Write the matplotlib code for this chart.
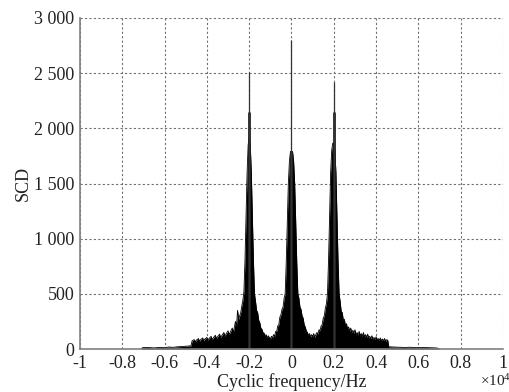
import matplotlib
matplotlib.use("Agg")
import matplotlib.pyplot as plt

plt.rcParams['font.family'] = ['Liberation Serif', 'DejaVu Serif']
plt.rcParams['mathtext.fontset'] = 'custom'
plt.rcParams['mathtext.rm'] = 'Liberation Serif'

# (cyclic frequency x1e4 Hz, SCD) envelope values
spectrum = [
    (-0.71, 0), (-0.705, 12), (-0.68, 14), (-0.65, 10), (-0.62, 15), (-0.60, 12),
    (-0.58, 18), (-0.56, 15), (-0.54, 20), (-0.52, 22), (-0.50, 25), (-0.48, 28),
    (-0.475, 30), (-0.47, 75), (-0.46, 85), (-0.455, 65), (-0.45, 80), (-0.44, 95),
    (-0.435, 70), (-0.43, 85), (-0.42, 100), (-0.415, 75), (-0.41, 90), (-0.40, 105),
    (-0.395, 80), (-0.39, 95), (-0.38, 115), (-0.375, 85), (-0.37, 100), (-0.36, 125),
    (-0.355, 95), (-0.35, 110), (-0.34, 135), (-0.335, 105), (-0.33, 120),
    (-0.32, 150), (-0.315, 115), (-0.31, 135), (-0.30, 165), (-0.295, 130),
    (-0.29, 150), (-0.28, 190), (-0.275, 150), (-0.27, 200), (-0.265, 250),
    (-0.26, 210), (-0.255, 350), (-0.25, 270), (-0.245, 300), (-0.24, 330),
    (-0.235, 390), (-0.23, 440), (-0.225, 520), (-0.22, 800), (-0.215, 1200),
    (-0.21, 1600), (-0.205, 1850), (-0.20, 1920), (-0.195, 1850), (-0.19, 1600),
    (-0.185, 1200), (-0.18, 800), (-0.175, 500), (-0.17, 430), (-0.165, 350),
    (-0.16, 330), (-0.155, 260), (-0.15, 240), (-0.145, 190), (-0.14, 180),
    (-0.135, 150), (-0.13, 145), (-0.125, 120), (-0.12, 130), (-0.115, 100),
    (-0.11, 120), (-0.10, 90), (-0.095, 115), (-0.09, 100), (-0.085, 130),
    (-0.08, 115), (-0.075, 160), (-0.07, 160), (-0.065, 210), (-0.06, 220),
    (-0.055, 290), (-0.05, 310), (-0.045, 360), (-0.04, 380), (-0.035, 460),
    (-0.03, 500), (-0.025, 780), (-0.02, 1150), (-0.015, 1500), (-0.01, 1700),
    (-0.005, 1790), (0.0, 1790), (0.005, 1790), (0.01, 1700), (0.015, 1500),
    (0.02, 1150), (0.025, 780), (0.03, 500), (0.035, 460), (0.04, 380),
    (0.045, 360), (0.05, 300), (0.055, 280), (0.06, 220), (0.065, 200),
    (0.07, 165), (0.075, 150), (0.08, 125), (0.085, 140), (0.09, 110),
    (0.095, 130), (0.10, 115), (0.105, 140), (0.11, 105), (0.115, 130),
    (0.12, 150), (0.125, 135), (0.13, 175), (0.135, 165), (0.14, 210),
    (0.145, 220), (0.15, 280), (0.155, 300), (0.16, 370), (0.165, 410),
    (0.17, 500), (0.175, 800), (0.18, 1200), (0.185, 1600), (0.19, 1800),
    (0.195, 1865), (0.20, 1865), (0.205, 1800), (0.21, 1600), (0.215, 1200),
    (0.22, 800), (0.225, 500), (0.23, 430), (0.235, 340), (0.24, 330),
    (0.245, 260), (0.25, 270), (0.255, 210), (0.26, 230), (0.265, 180),
    (0.27, 200), (0.275, 160), (0.28, 190), (0.285, 150), (0.29, 170),
    (0.295, 140), (0.30, 175), (0.305, 130), (0.31, 150), (0.315, 125),
    (0.32, 160), (0.325, 120), (0.33, 140), (0.335, 115), (0.34, 150),
    (0.345, 110), (0.35, 130), (0.355, 105), (0.36, 135), (0.365, 100),
    (0.37, 115), (0.375, 95), (0.38, 120), (0.385, 90), (0.39, 105),
    (0.395, 85), (0.40, 110), (0.405, 85), (0.41, 95), (0.415, 80), (0.42, 100),
    (0.425, 75), (0.43, 90), (0.435, 75), (0.44, 95), (0.445, 70), (0.45, 85),
    (0.455, 80), (0.46, 20), (0.48, 18), (0.50, 16), (0.52, 15), (0.54, 14),
    (0.56, 16), (0.58, 13), (0.60, 12), (0.62, 14), (0.65, 12), (0.68, 10),
    (0.69, 8), (0.70, 0),
]
freq = [p[0] for p in spectrum]
scd = [p[1] for p in spectrum]

# Narrow peak tips
peak_freq = [-0.20, 0.0, 0.20]
peak_mid = [2150, 1795, 2150]
peak_top = [2510, 2800, 2420]

xticks = [-1, -0.8, -0.6, -0.4, -0.2, 0, 0.2, 0.4, 0.6, 0.8, 1]
xticklabels = ['-1', '-0.8', '-0.6', '-0.4', '-0.2', '0', '0.2', '0.4', '0.6', '0.8', '1']
yticks = [0, 500, 1000, 1500, 2000, 2500, 3000]
yticklabels = ['0', '500', '1 000', '1 500', '2 000', '2 500', '3 000']

fig = plt.figure(figsize=(5.1, 3.92), dpi=100)
ax = fig.add_axes([80/510, 43/392, 423/510, 331/392])

ax.fill_between(freq, 0, scd, color='black', lw=0)
ax.plot(freq, scd, color='black', lw=0.6)
ax.vlines(peak_freq, 0, peak_mid, color='#222222', lw=2.0)
ax.vlines(peak_freq, 0, peak_top, color='#333333', lw=0.9)

ax.set_xlim(-1, 1)
ax.set_ylim(0, 3000)
ax.set_xticks(xticks)
ax.set_xticklabels(xticklabels)
ax.set_yticks(yticks)
ax.set_yticklabels(yticklabels)
ax.tick_params(direction='in', length=0, labelsize=13, colors='#222222', pad=4)

ax.grid(True, color='#707070', linestyle=(0, (2, 2)), lw=0.8)
ax.set_axisbelow(True)
for s in ['top', 'right']:
    ax.spines[s].set_visible(False)
for s in ['left', 'bottom']:
    ax.spines[s].set_color('#808080')
    ax.spines[s].set_linewidth(1.2)

ax.set_xlabel('Cyclic frequency/Hz', fontsize=13, color='#222222', labelpad=1)
ax.set_ylabel('SCD', fontsize=13, color='#222222', labelpad=2)
fig.text(480/510, 1 - 381/392, r'$\times\mathregular{10^4}$', fontsize=11,
         color='#222222', va='center', ha='left')

fig.savefig('out.png', dpi=100)
